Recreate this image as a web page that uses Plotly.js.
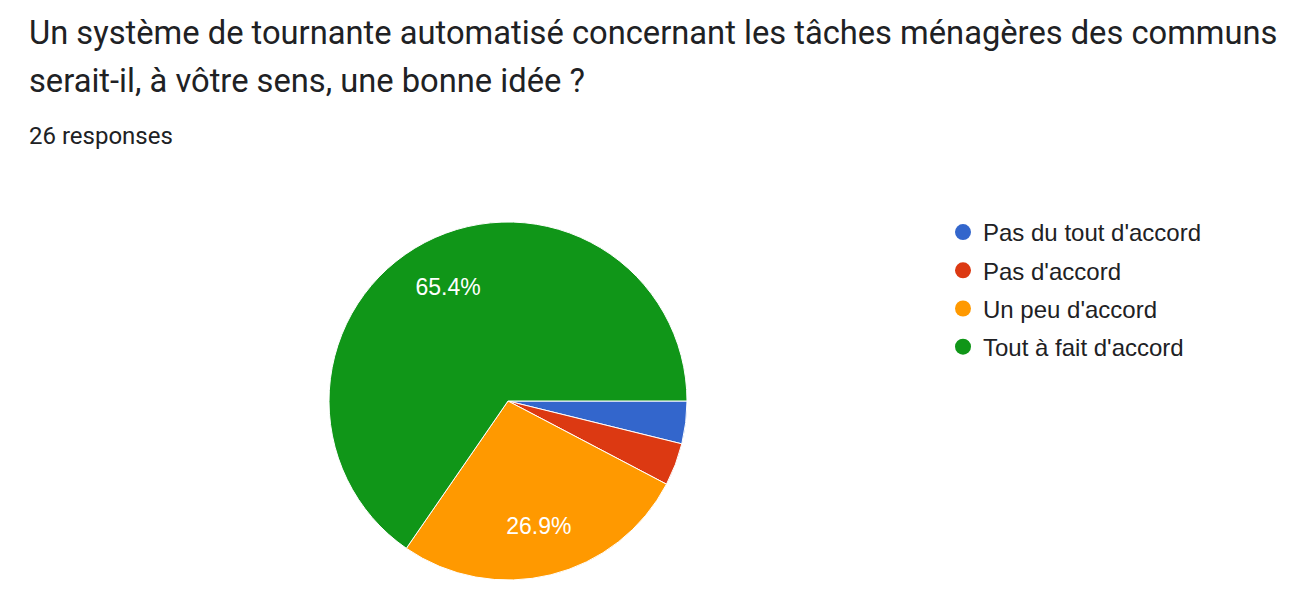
<!DOCTYPE html>
<html>
<head>
<meta charset="utf-8">
<script src="https://cdn.plot.ly/plotly-3.0.1.min.js"></script>
<style>html,body{margin:0;padding:0;background:#fff;}#chart{width:1300px;height:610px;}</style>
</head>
<body>
<div id="chart"></div>
<script>
const titleLines = ["Un système de tournante automatisé concernant les tâches ménagères des communs", "serait-il, à vôtre sens, une bonne idée ?"];
const subtitle = "26 responses";
const labels = ["Pas du tout d'accord", "Pas d'accord", "Un peu d'accord", "Tout à fait d'accord"];
const counts = [1, 1, 7, 17];
const colors = ["#3366cc", "#dc3912", "#ff9900", "#109618"];
const shownLabels = [false, false, true, true];

const pieDomain = {x: [329/1300, 687/1300], y: [30/610, 388/610]};

const pie = {
  type: 'pie',
  labels: labels,
  values: counts,
  sort: false,
  direction: 'clockwise',
  rotation: 90,
  marker: {colors: colors, line: {color: '#ffffff', width: 1}},
  textinfo: 'none',
  domain: pieDomain,
  showlegend: false,
  hoverinfo: 'label+percent'
};

// transparent overlay ring used only to place the percentage labels further out
const pieLabels = {
  type: 'pie',
  labels: labels,
  values: counts,
  sort: false,
  direction: 'clockwise',
  rotation: 90,
  hole: 0.44,
  marker: {colors: labels.map(() => 'rgba(0,0,0,0)'), line: {width: 0}},
  texttemplate: shownLabels.map(s => s ? '%{percent:.1%}' : ''),
  textposition: 'inside',
  insidetextorientation: 'horizontal',
  textfont: {family: 'Liberation Sans, Arial, sans-serif', size: 23, color: '#ffffff'},
  domain: pieDomain,
  showlegend: false,
  hoverinfo: 'skip'
};

const legendTraces = labels.map((lab, i) => ({
  type: 'scatter',
  mode: 'markers',
  x: [null], y: [null],
  name: lab,
  legendgroup: 'g' + i,
  marker: {color: colors[i], size: 22, symbol: 'circle'},
  hoverinfo: 'skip'
}));

const annotations = [
  {text: titleLines[0], x: 27/1300, y: 1 - 33/610},
  {text: titleLines[1], x: 27/1300, y: 1 - 81/610}
].map(a => Object.assign(a, {xref: 'paper', yref: 'paper', xanchor: 'left', yanchor: 'middle', showarrow: false,
  font: {family: 'Roboto, sans-serif', size: 32.7, color: '#202124'}}));
annotations.push({text: subtitle, x: 27/1300, y: 1 - 136/610, xref: 'paper', yref: 'paper', xanchor: 'left', yanchor: 'middle', showarrow: false,
  font: {family: 'Roboto, sans-serif', size: 24, color: '#202124'}});

const layout = {
  width: 1300, height: 610,
  margin: {l: 0, r: 0, t: 0, b: 0},
  paper_bgcolor: '#ffffff', plot_bgcolor: '#ffffff',
  xaxis: {visible: false}, yaxis: {visible: false},
  showlegend: true,
  legend: {x: 943/1300, y: 1 - 210/610, xanchor: 'left', yanchor: 'top', tracegroupgap: 4,
    font: {family: 'Liberation Sans, Arial, sans-serif', size: 24, color: '#202124'}, bgcolor: 'rgba(0,0,0,0)'},
  annotations: annotations
};

Plotly.newPlot('chart', [pie, pieLabels].concat(legendTraces), layout, {displayModeBar: false, staticPlot: true});
</script>
</body>
</html>
